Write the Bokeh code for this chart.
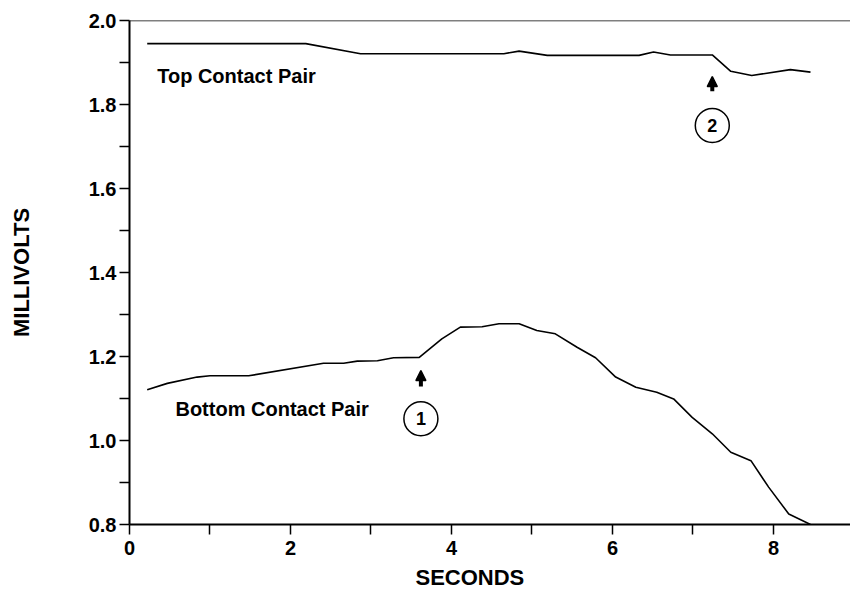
import math
from bokeh.plotting import figure
from bokeh.models import FixedTicker, PrintfTickFormatter, Span, Label, Arrow, NormalHead, Title
from bokeh.embed import file_html
from bokeh.resources import INLINE

# ---- data ----
top_x = [0.22, 2.19, 2.87, 4.65, 4.84, 5.19, 6.33, 6.51, 6.72, 7.24, 7.47, 7.73, 8.21, 8.46]
top_y = [1.945, 1.945, 1.921, 1.921, 1.927, 1.917, 1.917, 1.925, 1.918, 1.918, 1.879, 1.869, 1.883, 1.877]

bot_x = [0.22, 0.47, 0.84, 1.0, 1.48, 2.41, 2.66, 2.83, 3.08, 3.28, 3.60, 3.88, 4.11, 4.38,
         4.59, 4.84, 5.06, 5.29, 5.56, 5.79, 6.04, 6.29, 6.55, 6.76, 6.99, 7.24, 7.47, 7.72,
         7.94, 8.19, 8.46]
bot_y = [1.121, 1.136, 1.151, 1.154, 1.154, 1.184, 1.184, 1.189, 1.190, 1.197, 1.198, 1.242,
         1.270, 1.271, 1.278, 1.278, 1.262, 1.254, 1.222, 1.197, 1.151, 1.127, 1.115, 1.099,
         1.055, 1.016, 0.972, 0.952, 0.889, 0.825, 0.800]

x_major = [0, 2, 4, 6, 8]
x_minor = [1, 3, 5, 7]
y_major = [0.8, 1.0, 1.2, 1.4, 1.6, 1.8, 2.0]
y_minor = [0.9, 1.1, 1.3, 1.5, 1.7, 1.9]

events = ["1", "2"]
event_x = [3.62, 7.24]

FONT = "Liberation Sans"

p = figure(width=850, height=595, output_backend="svg", toolbar_location=None,
           x_range=(0, 8.957), y_range=(0.8, 2.0),
           min_border_left=129, min_border_right=0, min_border_top=20, min_border_bottom=71)
p.outline_line_color = None
p.xgrid.visible = False
p.ygrid.visible = False
p.background_fill_color = "white"
p.border_fill_color = "white"

for ax in (p.xaxis[0], p.yaxis[0]):
    ax.axis_line_width = 2
    ax.axis_line_color = "black"
    ax.major_tick_line_width = 1.5
    ax.minor_tick_line_width = 1.5
    ax.major_tick_out = 10
    ax.major_tick_in = 0
    ax.minor_tick_out = 10
    ax.minor_tick_in = 0
    ax.major_label_text_font = FONT
    ax.major_label_text_font_style = "bold"
    ax.major_label_text_font_size = "20px"
    ax.major_label_text_color = "black"

p.xaxis.ticker = FixedTicker(ticks=x_major, minor_ticks=x_minor)
p.yaxis.ticker = FixedTicker(ticks=y_major, minor_ticks=y_minor)
p.yaxis.formatter = PrintfTickFormatter(format="%.1f")
p.xaxis.major_label_standoff = 6
p.yaxis.major_label_standoff = 3

p.yaxis.axis_label = "MILLIVOLTS"
p.yaxis.axis_label_text_font = FONT
p.yaxis.axis_label_text_font_style = "bold"
p.yaxis.axis_label_text_font_size = "22px"
p.yaxis.axis_label_text_color = "black"
p.yaxis.axis_label_standoff = 52

# x axis title, shifted left like in the reference
xt = Title(text="SECONDS", align="left", offset=286, text_font=FONT, text_font_style="bold",
           text_font_size="22px", text_color="black", standoff=11)
p.add_layout(xt, "below")

# top border line at 2.0
p.add_layout(Span(location=2.0, dimension="width", line_color="black", line_width=1.5))

p.line(top_x, top_y, line_color="black", line_width=1.6)
p.line(bot_x, bot_y, line_color="black", line_width=1.6)

p.add_layout(Label(x=0.344, y=1.8667, text="Top Contact Pair", text_font=FONT, text_color="black",
                   text_font_style="bold", text_font_size="20px", text_baseline="alphabetic"))
p.add_layout(Label(x=0.571, y=1.0755, text="Bottom Contact Pair", text_font=FONT, text_color="black",
                   text_font_style="bold", text_font_size="20px", text_baseline="alphabetic"))

# event markers: arrows and circled numbers
arrow_y0 = [1.1286, 1.8317]
arrow_y1 = [1.1667, 1.8667]
circle_y = [1.0517, 1.75]
for ex, y0, y1 in zip(event_x, arrow_y0, arrow_y1):
    p.add_layout(Arrow(x_start=ex, y_start=y0, x_end=ex, y_end=y1, line_width=4,
                       line_color="black",
                       end=NormalHead(size=10, fill_color="black", line_color="black", line_width=1.5)))
p.scatter(event_x, circle_y, size=34, marker="circle", fill_color="white",
          line_color="black", line_width=1.5)
p.text(event_x, circle_y, text=events, text_align="center", text_baseline="middle",
       text_font_size="18px", text_font_style="bold", text_font={"value": FONT},
       text_color="black")

open("out.html", "w").write(file_html(p, INLINE))
